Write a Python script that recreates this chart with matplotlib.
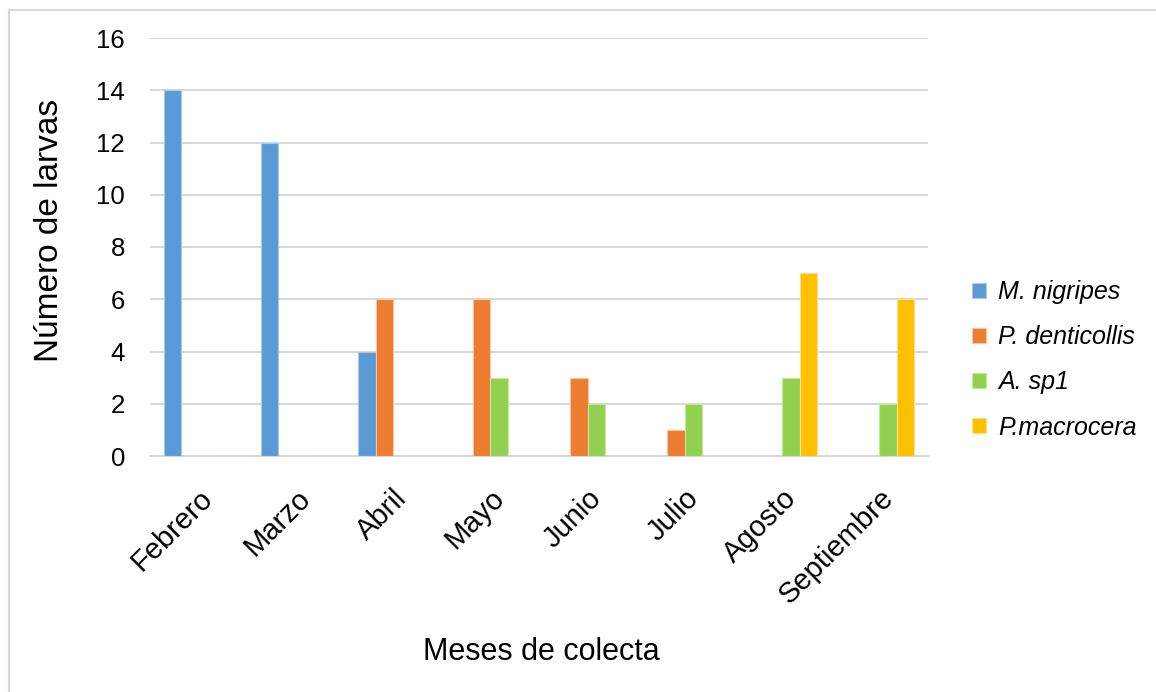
import numpy as np
import matplotlib
matplotlib.use("Agg")
import matplotlib.pyplot as plt
from matplotlib.lines import Line2D

plt.rcParams['font.family'] = ['Liberation Sans', 'DejaVu Sans']

meses = ["Febrero", "Marzo", "Abril", "Mayo", "Junio", "Julio", "Agosto", "Septiembre"]
especies = ["M. nigripes", "P. denticollis", "A. sp1", "P.macrocera"]
m_nigripes = [14, 12, 4, 0, 0, 0, 0, 0]
p_denticollis = [0, 0, 6, 6, 3, 1, 0, 0]
a_sp1 = [0, 0, 0, 3, 2, 2, 3, 2]
p_macrocera = [0, 0, 0, 0, 0, 0, 7, 6]
yticks = [0, 2, 4, 6, 8, 10, 12, 14, 16]

series = [m_nigripes, p_denticollis, a_sp1, p_macrocera]
colores = ["#5B9BD5", "#ED7D31", "#92D050", "#FFC000"]
bordes = ["#a9c8ea", "#f6c4a3", "#c6e8a0", "#ffe08a"]

fig = plt.figure(figsize=(11.56, 6.92), dpi=100)
ax = fig.add_axes([150/1156, 1-456/692, 778/1156, 418/692])

x = np.arange(len(meses))
w = 0.18
for i, (vals, c, b) in enumerate(zip(series, colores, bordes)):
    ax.bar(x + (i - 1.5) * w, vals, width=w, color=c, edgecolor=b,
           linewidth=0.8, label=especies[i], zorder=3)

ax.set_xlim(-0.5, len(meses) - 0.5)
ax.set_ylim(0, 16)
ax.set_yticks(yticks)
ax.set_yticklabels([str(v) for v in yticks], fontsize=18.5)
ax.yaxis.grid(True, color="#d9d9d9", linewidth=1.5, zorder=0)
ax.set_axisbelow(True)
for s in ["top", "right", "left"]:
    ax.spines[s].set_visible(False)
ax.spines["bottom"].set_color("#d9d9d9")
ax.spines["bottom"].set_linewidth(1.5)
ax.tick_params(axis="both", length=0)
ax.tick_params(axis="y", pad=18)
ax.set_xticks(x)
ax.set_xticklabels(meses, fontsize=21, rotation=45, ha="right",
                   rotation_mode="anchor")
ax.tick_params(axis="x", pad=20)

fig.text(50/1156, 1-230/692, "Número de larvas", rotation=90, fontsize=24,
         ha="center", va="center")
fig.text(541/1156, 1-652/692, "Meses de colecta", fontsize=22,
         ha="center", va="center")

leg = ax.legend(loc="upper left", bbox_to_anchor=(962/1156, 1-270/692),
                bbox_transform=fig.transFigure, frameon=False,
                prop={"size": 18, "style": "italic"},
                handlelength=0.55, handleheight=0.55, handletextpad=0.5,
                labelspacing=0.85, borderaxespad=0)

# marco exterior (solo arriba e izquierda)
fig.add_artist(Line2D([8.5/1156, 1], [1-10/692, 1-10/692], color="#d9d9d9",
                      linewidth=1.5, transform=fig.transFigure))
fig.add_artist(Line2D([8.5/1156, 8.5/1156], [0, 1-10/692], color="#d9d9d9",
                      linewidth=1.5, transform=fig.transFigure))

fig.savefig("out.png", dpi=100, facecolor="white")
